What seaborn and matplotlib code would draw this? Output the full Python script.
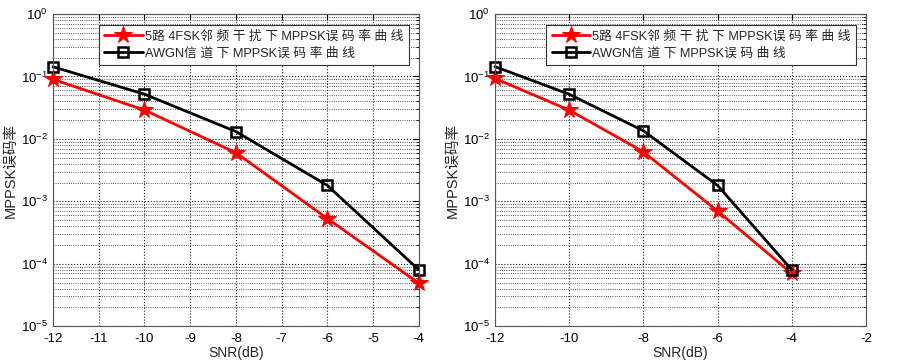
import numpy as np
import pandas as pd
import seaborn as sns
import matplotlib.pyplot as plt
from matplotlib.ticker import LogLocator, FixedLocator

# ---------------------------------------------------------
# DATA
# ---------------------------------------------------------

snr = [-12, -10, -8, -6, -4]

left_fsk = [0.090, 0.029, 0.0060, 5.3e-4, 4.9e-5]
left_awgn = [0.143, 0.052, 0.0131, 1.8e-3, 8.0e-5]

right_fsk = [0.093, 0.029, 0.0062, 7.0e-4, 7.0e-5]
right_awgn = [0.144, 0.052, 0.0135, 1.8e-3, 8.0e-5]

left_labels = ["5路 4FSK邻 频 干 扰 下 MPPSK误 码 率 曲 线",
               "AWGN信 道 下 MPPSK误 码 率 曲 线"]
right_labels = ["5路 4FSK邻 频 干 扰 下 MPPSK误 码 率 曲 线",
                "AWGN信 道 下 MPPSK误 码 曲 线"]

left_xticks = [-12, -11, -10, -9, -8, -7, -6, -5, -4]
right_xticks = [-12, -10, -8, -6, -4, -2]

# ---------------------------------------------------------
# STYLE
# ---------------------------------------------------------

sns.set_style("white")
plt.rcParams["font.family"] = ["Liberation Sans", "Noto Sans CJK SC", "DejaVu Sans"]
plt.rcParams["font.size"] = 10
plt.rcParams["axes.unicode_minus"] = False


def draw_panel(ax, fsk, awgn, labels, xticks):
    df_fsk = pd.DataFrame({"SNR": snr, "BER": fsk})
    df_awgn = pd.DataFrame({"SNR": snr, "BER": awgn})

    sns.lineplot(data=df_fsk, x="SNR", y="BER", ax=ax, color="#ff0000",
                 linewidth=2, marker="*", markersize=13,
                 markeredgecolor="#ff0000", label=labels[0], clip_on=False)
    sns.lineplot(data=df_awgn, x="SNR", y="BER", ax=ax, color="black",
                 linewidth=2, marker="s", markersize=7,
                 markerfacecolor="none", markeredgecolor="black",
                 markeredgewidth=1.8, label=labels[1], clip_on=False)

    ax.set_yscale("log")
    ax.set_ylim(1e-5, 1)
    ax.set_xlim(xticks[0], xticks[-1])
    ax.xaxis.set_major_locator(FixedLocator(xticks))
    ax.yaxis.set_major_locator(LogLocator(base=10, numticks=10))
    ax.yaxis.set_minor_locator(LogLocator(base=10, subs=np.arange(2, 10), numticks=50))

    ax.grid(True, which="major", color="#222222", linestyle=":", linewidth=0.8)
    ax.grid(True, which="minor", axis="y", color="#222222", linestyle=":", linewidth=0.6)

    ax.tick_params(which="both", direction="in", top=True, right=True,
                   labelsize=9.5, colors="black")
    ax.tick_params(which="major", length=4)
    ax.tick_params(which="minor", length=2)
    ax.tick_params(axis="x", pad=5)
    for s in ax.spines.values():
        s.set_color("#555555")
        s.set_linewidth(0.8)

    ax.set_xlabel("SNR(dB)", fontsize=10, labelpad=1)
    ax.set_ylabel("MPPSK误码率", fontsize=10.5, labelpad=2)

    leg = ax.legend(loc="upper right", bbox_to_anchor=(0.99, 0.985),
                    fontsize=9.2, frameon=True, fancybox=False,
                    handlelength=3.0, handletextpad=0.2,
                    borderpad=0.4, labelspacing=0.35)
    leg.get_frame().set_edgecolor("#333333")
    leg.get_frame().set_linewidth(0.8)
    leg.get_frame().set_alpha(1)


fig = plt.figure(figsize=(9.03, 3.6), dpi=100)
ax1 = fig.add_axes([0.0587, 0.094, 0.405, 0.867])
ax2 = fig.add_axes([0.548, 0.094, 0.411, 0.867])

draw_panel(ax1, left_fsk, left_awgn, left_labels, left_xticks)
draw_panel(ax2, right_fsk, right_awgn, right_labels, right_xticks)

fig.savefig("out.png", dpi=100)
